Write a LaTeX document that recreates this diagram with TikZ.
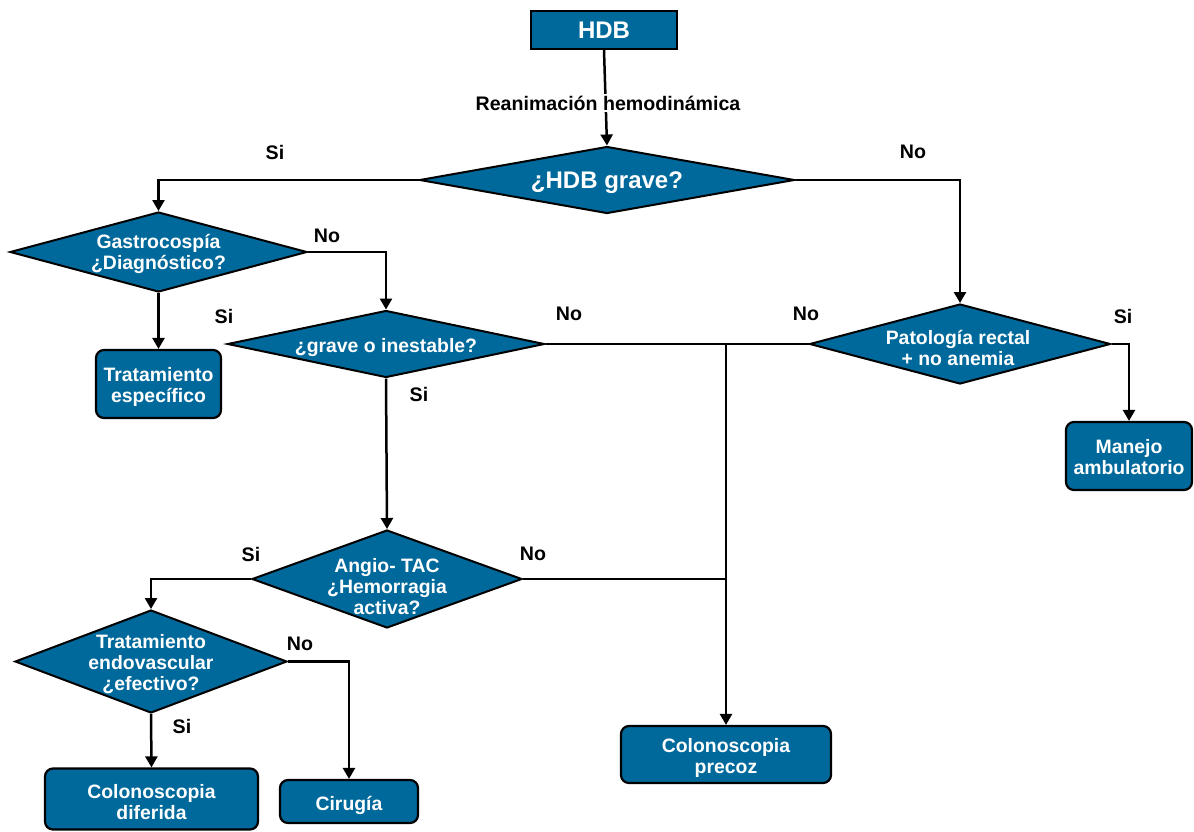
\documentclass[tikz,border=0pt]{standalone}
\usepackage{fontspec}
\setmainfont{Liberation Sans}
\usetikzlibrary{shapes.geometric,arrows.meta}
\definecolor{fillblue}{RGB}{0,105,155}
\begin{document}
\begin{tikzpicture}[x=1pt,y=-1pt,
  box/.style={draw=black, line width=2.2pt, fill=fillblue, rounded corners=8pt, inner sep=0pt},
  btext/.style={text=white, font=\bfseries\fontsize{19.4}{21}\selectfont, align=center, inner sep=0pt},
  sqbox/.style={draw=black, line width=2.4pt, fill=fillblue, text=white,
    font=\bfseries\fontsize{24}{26}\selectfont, align=center, inner sep=0pt},
  dia/.style={draw=black, line width=2pt, fill=fillblue, diamond, inner sep=0pt},
  dtext/.style={text=white, font=\bfseries\fontsize{19.4}{21}\selectfont, align=center, inner sep=0pt},
  dbig/.style={text=white, font=\bfseries\fontsize{24}{26}\selectfont, align=center, inner sep=0pt},
  lbl/.style={font=\bfseries\fontsize{19.6}{21}\selectfont, text=black, inner sep=0pt},
  conn/.style={line width=2.5pt, -{Triangle[length=11pt,width=12pt]}},
  plain/.style={line width=2.5pt}
]
\useasboundingbox (0,0) rectangle (1194,831);

% nodes
\node[sqbox, minimum width=146pt, minimum height=38pt] (hdb) at (604,30) {HDB};
\node[dia, minimum width=375pt, minimum height=67pt] (d1) at (607,180) {};
\node[dbig] (d1t) at (607,183) {¿HDB grave?};
\node[dia, minimum width=297pt, minimum height=80pt] (d2) at (158.5,252) {};
\node[dtext] (d2t) at (158.5,254) {Gastrocospía\\¿Diagnóstico?};
\node[dia, minimum width=317pt, minimum height=67pt] (d3) at (386,344) {};
\node[dtext] (d3t) at (386,348) {¿grave o inestable?};
\node[dia, minimum width=301pt, minimum height=80pt] (d5) at (960,344) {};
\node[dtext] (d5t) at (958,348) {Patología rectal\\+ no anemia};
\node[dia, minimum width=270pt, minimum height=98pt] (d4) at (387,579) {};
\node[dtext] (d4t) at (387,586.5) {Angio- TAC\\¿Hemorragia\\activa?};
\node[dia, minimum width=272pt, minimum height=103pt] (d6) at (151,661.5) {};
\node[dtext] (d6t) at (151,664.5) {Tratamiento\\endovascular\\¿efectivo?};

\node[box, minimum width=125pt, minimum height=68pt] (te) at (158.5,384) {};
\node[btext] (tet) at (158.5,387) {Tratamiento\\específico};
\node[box, minimum width=126pt, minimum height=68pt] (mb) at (1129,456) {};
\node[btext] (mbt) at (1129,457.5) {Manejo\\ambulatorio};
\node[box, minimum width=210pt, minimum height=57pt] (cp) at (726,754.5) {};
\node[btext] (cpt) at (726,757.5) {Colonoscopia\\precoz};
\node[box, minimum width=213pt, minimum height=61pt] (cd) at (151.5,799) {};
\node[btext] (cdt) at (151.5,802) {Colonoscopia\\diferida};
\node[box, minimum width=138pt, minimum height=43pt] (cir) at (349,801.5) {};
\node[btext] (cirt) at (349,805) {Cirugía};

\coordinate (j1) at (726,344);
\coordinate (j2) at (726,579);

% connectors
\draw[conn] (hdb.south) -- (d1.north);
\node[lbl, fill=white, inner sep=2pt] (rean) at (608,103) {Reanimación hemodinámica};
\draw[conn] (d1.west) -| (d2.north);
\draw[conn] (d1.east) -| (d5.north);
\draw[conn] (d2.east) -| (d3.north);
\draw[conn] (d2.south) -- (te.north);
\draw[plain] (d3.east) -- (d5.west);
\draw[conn] (j1) -- (cp.north);
\draw[plain] (d4.east) -- (j2);
\draw[conn] (d3.south) -- (d4.north);
\draw[conn] (d5.east) -| (mb.north);
\draw[conn] (d4.west) -| (d6.north);
\draw[conn] (d6.east) -| (cir.north);
\draw[conn] (d6.south) -- (cd.north);

% labels
\node[lbl] (l1) at (275,152) {Si};
\node[lbl] (l2) at (913,152) {No};
\node[lbl] (l3) at (327,236) {No};
\node[lbl] (l4) at (224,316) {Si};
\node[lbl] (l5) at (569,314) {No};
\node[lbl] (l6) at (419,394) {Si};
\node[lbl] (l7) at (806,314) {No};
\node[lbl] (l8) at (1123,316) {Si};
\node[lbl] (l9) at (251,554) {Si};
\node[lbl] (l10) at (533,554) {No};
\node[lbl] (l11) at (300,644) {No};
\node[lbl] (l12) at (182,726) {Si};
\end{tikzpicture}
\end{document}
